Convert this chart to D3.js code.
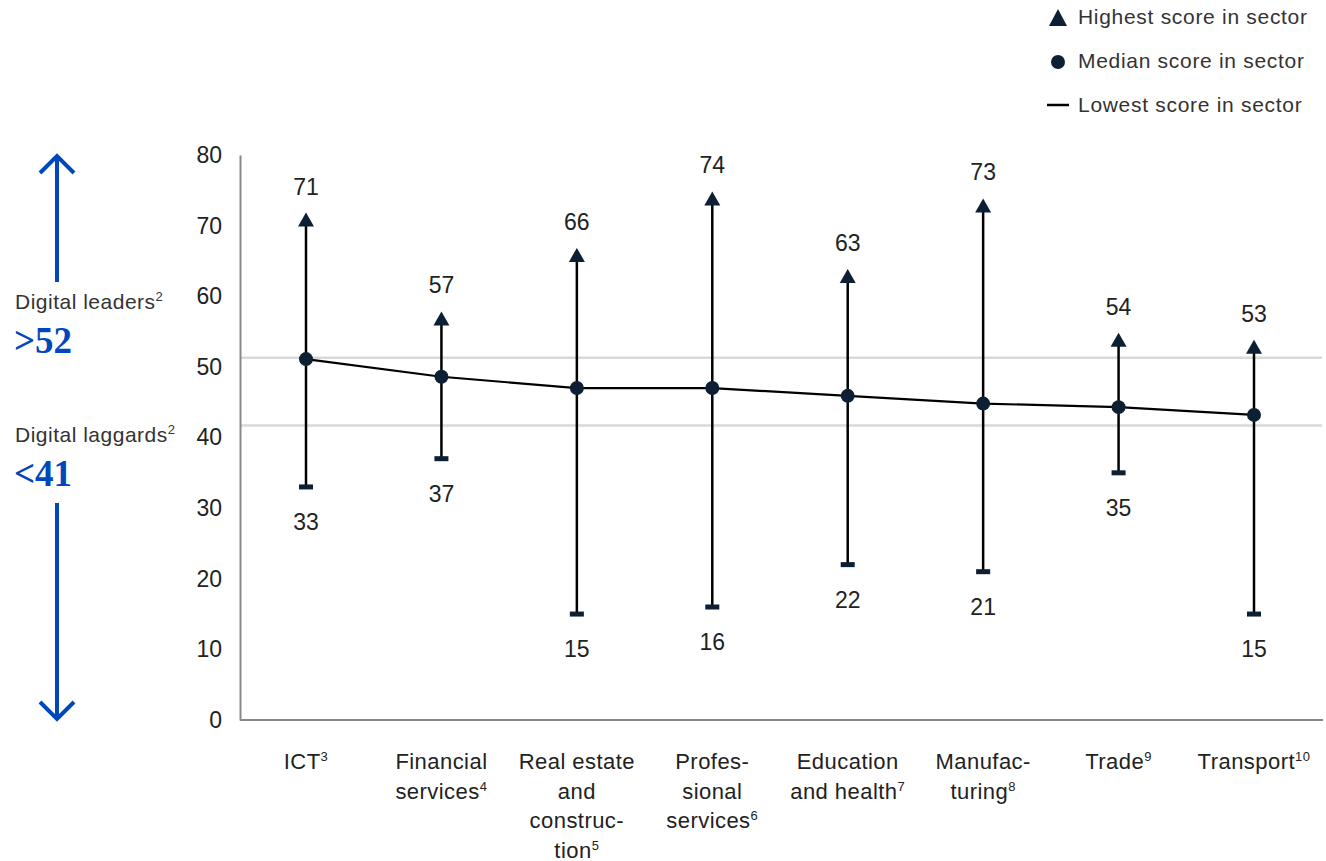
<!DOCTYPE html>
<html><head><meta charset="utf-8">
<script src="https://cdn.jsdelivr.net/npm/d3@7"></script>
<style>
body{margin:0;background:#fff}
svg{display:block}
</style></head>
<body><svg id="c" width="1326" height="861" font-family="'Liberation Sans',Arial,sans-serif"></svg>
<script>
// ---- data ----
const categories = ["ICT","Financial services","Real estate and construction","Professional services","Education and health","Manufacturing","Trade","Transport"];
const categoryLines = [["ICT|3"],["Financial","services|4"],["Real estate","and","construc-","tion|5"],["Profes-","sional","services|6"],["Education","and health|7"],["Manufac-","turing|8"],["Trade|9"],["Transport|10"]];
const highest = [71,57,66,74,63,73,54,53];
const median  = [51.1,48.6,47.0,47.0,45.9,44.8,44.3,43.2];
const lowest  = [33,37,15,16,22,21,35,15];
const yTicks = [0,10,20,30,40,50,60,70,80];
const thresholdLines = [51.3,41.7];
const legendItems = ["Highest score in sector","Median score in sector","Lowest score in sector"];

const svg = d3.select("#c");
const navy = "#0d1f33", blue = "#0047bb", ink = "#222";

const x = d3.scalePoint().domain(categories).range([306,1254]);
const y = d3.scaleLinear().domain([0,80]).range([720,155]);

// gridlines
svg.selectAll("line.grid").data(thresholdLines).join("line")
  .attr("x1",240).attr("x2",1322).attr("y1",d=>y(d)).attr("y2",d=>y(d))
  .attr("stroke","#d9d9d9").attr("stroke-width",2.5);

// axes
const yAxis = d3.axisLeft(y).tickValues(yTicks).tickSize(0).tickPadding(18);
const gy = svg.append("g").attr("transform","translate(240,0)").call(yAxis);
gy.attr("font-family",null).attr("font-size",null);
gy.select(".domain").attr("stroke","#888").attr("stroke-width",2);
gy.selectAll("text").attr("font-size",23).attr("fill",ink);

const xAxis = d3.axisBottom(x).tickSize(0).tickFormat("");
const gx = svg.append("g").attr("transform","translate(0,720)").call(xAxis);
gx.select(".domain").attr("d","M240,0H1323").attr("stroke","#888").attr("stroke-width",2);

// category labels
categories.forEach((c,i)=>{
  const t = svg.append("text").attr("text-anchor","middle").attr("font-size",22).attr("letter-spacing",0.45).attr("fill",ink);
  categoryLines[i].forEach((ln,j)=>{
    const [main,sup] = ln.split("|");
    t.append("tspan").attr("x",x(c)).attr("y",769+j*29.5).text(main);
    if(sup){ t.append("tspan").attr("font-size",13).attr("dy",-8).text(sup); }
  });
});

const data = categories.map((c,i)=>({c,hi:highest[i],md:median[i],lo:lowest[i]}));

// vertical range lines
svg.selectAll("line.rng").data(data).join("line")
  .attr("x1",d=>x(d.c)).attr("x2",d=>x(d.c)).attr("y1",d=>y(d.lo)).attr("y2",d=>y(d.hi)+2)
  .attr("stroke","#000").attr("stroke-width",2.5);

// median line
svg.append("path").datum(data)
  .attr("d",d3.line().x(d=>x(d.c)).y(d=>y(d.md)))
  .attr("fill","none").attr("stroke","#000").attr("stroke-width",2.2);

// triangles
svg.selectAll("path.tri").data(data).join("path")
  .attr("d",d=>{const cx=x(d.c),cy=y(d.hi);return `M${cx},${cy-6}L${cx+8},${cy+8}L${cx-8},${cy+8}Z`;})
  .attr("fill",navy);

// lowest bars
svg.selectAll("rect.lo").data(data).join("rect")
  .attr("x",d=>x(d.c)-7).attr("y",d=>y(d.lo)-2.5).attr("width",14).attr("height",5)
  .attr("fill",navy);

// median circles
svg.selectAll("circle.md").data(data).join("circle")
  .attr("cx",d=>x(d.c)).attr("cy",d=>y(d.md)).attr("r",7).attr("fill",navy);

// value labels
svg.selectAll("text.hi").data(data).join("text")
  .attr("x",d=>x(d.c)).attr("y",d=>y(d.hi)-24).attr("text-anchor","middle")
  .attr("font-size",23).attr("fill",ink).text(d=>d.hi);
svg.selectAll("text.lo").data(data).join("text")
  .attr("x",d=>x(d.c)).attr("y",d=>y(d.lo)+43).attr("text-anchor","middle")
  .attr("font-size",23).attr("fill",ink).text(d=>d.lo);

// legend
const lg = svg.append("g");
lg.append("path").attr("d","M1058,9L1067,26L1049,26Z").attr("fill",navy);
lg.append("circle").attr("cx",1058).attr("cy",62).attr("r",7).attr("fill",navy);
lg.append("line").attr("x1",1047).attr("x2",1069).attr("y1",105).attr("y2",105).attr("stroke","#000").attr("stroke-width",2.5);
legendItems.forEach((t,i)=>{
  lg.append("text").attr("x",1078).attr("y",24+i*44).attr("font-size",21).attr("letter-spacing",0.7).attr("fill","#333").text(t);
});

// left annotations
const ann = svg.append("g").attr("stroke",blue).attr("stroke-width",4).attr("fill","none").attr("stroke-linecap","butt");
ann.append("line").attr("x1",57).attr("x2",57).attr("y1",y(80)+3).attr("y2",282);
ann.append("path").attr("d",`M40,${y(80)+18}L57,${y(80)+1}L74,${y(80)+18}`);
ann.append("line").attr("x1",57).attr("x2",57).attr("y1",503).attr("y2",y(0)-3);
ann.append("path").attr("d",`M40,${y(0)-18}L57,${y(0)-1}L74,${y(0)-18}`);

function supText(xp,yp,main,sup){
  const t = svg.append("text").attr("x",xp).attr("y",yp).attr("font-size",21).attr("letter-spacing",0.5).attr("fill","#333");
  t.append("tspan").text(main);
  t.append("tspan").attr("font-size",13).attr("dy",-8).text(sup);
}
supText(15,309,"Digital leaders","2");
supText(15,442,"Digital laggards","2");
svg.append("text").attr("x",14).attr("y",353).attr("font-size",37).attr("font-weight","bold")
  .attr("font-family","'Liberation Serif','Times New Roman',serif").attr("fill",blue).text(">52");
svg.append("text").attr("x",14).attr("y",486).attr("font-size",37).attr("font-weight","bold")
  .attr("font-family","'Liberation Serif','Times New Roman',serif").attr("fill",blue).text("<41");
</script></body></html>
